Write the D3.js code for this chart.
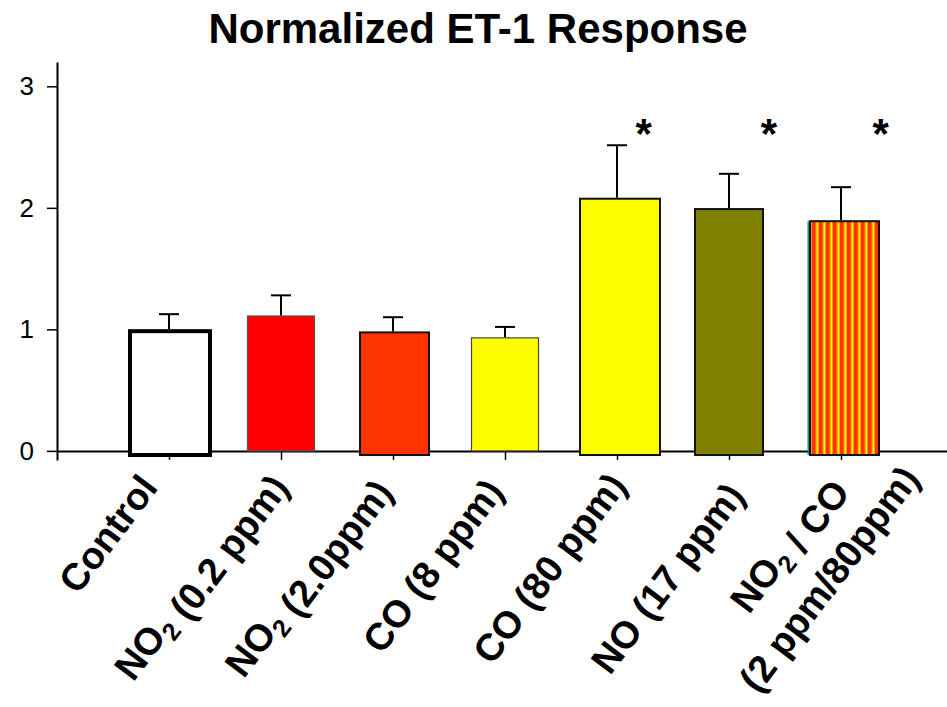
<!DOCTYPE html>
<html>
<head>
<meta charset="utf-8">
<script src="https://cdn.jsdelivr.net/npm/d3@7"></script>
<style>
  html, body { margin: 0; padding: 0; background: #fff; }
  svg { display: block; font-family: Arial, "Liberation Sans", Helvetica, sans-serif; }
</style>
</head>
<body>
<svg id="chart" width="947" height="707"></svg>
<script>
// ---- data ----
const chartTitle = "Normalized ET-1 Response";
const categories = [
  "Control",
  "NO2 (0.2 ppm)",
  "NO2 (2.0ppm)",
  "CO (8 ppm)",
  "CO (80 ppm)",
  "NO (17 ppm)",
  "NO2 / CO|(2 ppm/80ppm)"
];
const meanResponse = [0.985, 1.11, 0.975, 0.93, 2.075, 1.99, 1.89];
const errorUp      = [0.14, 0.17, 0.125, 0.09, 0.44, 0.29, 0.28];
const significant  = [false, false, false, false, true, true, true];
const yTickValues  = [0, 1, 2, 3];

// ---- styling ----
const barStyle = [
  { fill: "#ffffff",       stroke: "#000", sw: 4,   width: 80, dx: 1,   base: -0.034 },
  { fill: "#ff0000",       stroke: "#555", sw: 1.2, width: 67, dx: 0,   base: 0 },
  { fill: "#ff3300",       stroke: "#111", sw: 2,   width: 69, dx: 1.5, base: -0.034 },
  { fill: "#ffff00",       stroke: "#444", sw: 1.2, width: 67, dx: 0,   base: 0 },
  { fill: "#ffff00",       stroke: "#111", sw: 2,   width: 80, dx: 3,   base: -0.034 },
  { fill: "#808000",       stroke: "#111", sw: 2,   width: 68, dx: 0,   base: -0.034 },
  { fill: "url(#stripes)", stroke: "#111", sw: 2,   width: 69, dx: 3.5, base: -0.034, edge: "#008b8b" }
];
// label anchor (end of baseline) relative to tick and axis line
const labelPos = [
  [{ dx: -10, dy: 37 }],
  [{ dx: 3, dy: 32 }],
  [{ dx: -5, dy: 37 }],
  [{ dx: 0, dy: 41 }],
  [{ dx: 11, dy: 35 }],
  [{ dx: 17, dy: 45 }],
  [{ dx: 4, dy: 37 }, { dx: 80, dy: 28 }]
];
const labelAngle = -53;
const starDx = [0, 0, 0, 0, 26.7, 40, 39.7];

const svg = d3.select("#chart");

// stripe fill for the combined exposure bar
const defs = svg.append("defs");
const pat = defs.append("pattern")
  .attr("id", "stripes").attr("patternUnits", "userSpaceOnUse")
  .attr("width", 7).attr("height", 10);
pat.append("rect").attr("x", 0).attr("y", 0).attr("width", 7).attr("height", 10).attr("fill", "#ff3300");
pat.append("rect").attr("x", 3.5).attr("y", 0).attr("width", 1).attr("height", 10).attr("fill", "#ff9900");
pat.append("rect").attr("x", 4.5).attr("y", 0).attr("width", 1.5).attr("height", 10).attr("fill", "#ffff00");
pat.append("rect").attr("x", 6).attr("y", 0).attr("width", 1).attr("height", 10).attr("fill", "#ff9900");

// ---- scales ----
const x = d3.scalePoint().domain(categories).range([57, 953]).padding(1);
const y = d3.scaleLinear().domain([-0.075, 3.2]).range([460, 62]);

// ---- title ----
svg.append("text")
  .attr("x", 478).attr("y", 43)
  .attr("text-anchor", "middle")
  .attr("font-size", 42).attr("font-weight", "bold")
  .text(chartTitle);

// ---- axes ----
const xAxis = svg.append("g")
  .attr("transform", `translate(0,${y(0)})`)
  .call(d3.axisBottom(x).tickSize(9).tickSizeOuter(0).tickFormat(""));
xAxis.select(".domain").attr("stroke", "#000").attr("stroke-width", 2);
xAxis.selectAll(".tick line").attr("stroke", "#000").attr("stroke-width", 1.5);

const yAxis = svg.append("g")
  .attr("transform", "translate(57,0)")
  .call(d3.axisLeft(y).tickValues(yTickValues).tickSize(10).tickPadding(13).tickSizeOuter(0).tickFormat(d3.format("d")));
yAxis.attr("font-size", 26).attr("font-family", "Arial, 'Liberation Sans', sans-serif");
yAxis.select(".domain").attr("stroke", "#000").attr("stroke-width", 2);
yAxis.selectAll(".tick line").attr("stroke", "#000").attr("stroke-width", 1.5);
yAxis.selectAll(".tick text").attr("font-size", 26).attr("fill", "#000");

// ---- bars ----
const rows = categories.map((c, i) => ({
  cat: c, mean: meanResponse[i], err: errorUp[i], sig: significant[i], st: barStyle[i], i
}));

const bars = svg.append("g");
bars.selectAll("rect.bar").data(rows).join("rect")
  .attr("class", "bar")
  .attr("x", d => x(d.cat) + d.st.dx - d.st.width / 2)
  .attr("y", d => y(d.mean))
  .attr("width", d => d.st.width)
  .attr("height", d => y(d.st.base) - y(d.mean))
  .attr("fill", d => d.st.fill)
  .attr("stroke", d => d.st.stroke)
  .attr("stroke-width", d => d.st.sw);

bars.selectAll("line.edge").data(rows.filter(d => d.st.edge)).join("line")
  .attr("class", "edge")
  .attr("x1", d => x(d.cat) + d.st.dx - d.st.width / 2 - 1.8)
  .attr("x2", d => x(d.cat) + d.st.dx - d.st.width / 2 - 1.8)
  .attr("y1", d => y(d.mean))
  .attr("y2", d => y(d.st.base))
  .attr("stroke", d => d.st.edge).attr("stroke-width", 1.4);

// ---- error bars (upper only) ----
const err = svg.append("g").attr("stroke", "#000").attr("stroke-width", 2);
err.selectAll("line.stem").data(rows).join("line")
  .attr("class", "stem")
  .attr("x1", d => x(d.cat)).attr("x2", d => x(d.cat))
  .attr("y1", d => y(d.mean) - d.st.sw / 2).attr("y2", d => y(d.mean + d.err));
err.selectAll("line.cap").data(rows).join("line")
  .attr("class", "cap")
  .attr("x1", d => x(d.cat) - 10).attr("x2", d => x(d.cat) + 10)
  .attr("y1", d => y(d.mean + d.err)).attr("y2", d => y(d.mean + d.err));

// ---- significance markers ----
svg.append("g").selectAll("text").data(rows.filter(d => d.sig)).join("text")
  .attr("x", d => x(d.cat) + starDx[d.i])
  .attr("y", y(2.65) + 19)
  .attr("text-anchor", "middle")
  .attr("font-size", 42).attr("font-weight", "bold")
  .text("*");

// ---- category labels ----
function writeLine(sel, str) {
  // render "NO2" with a subscript 2
  const parts = str.split("NO2");
  parts.forEach((p, k) => {
    if (k > 0) {
      sel.append("tspan").text("NO");
      sel.append("tspan").attr("font-size", 25).attr("dy", 8).text("2");
      sel.append("tspan").attr("dy", -8).text("");
    }
    if (p) sel.append("tspan").text(p);
  });
}

const labels = svg.append("g")
  .attr("font-size", 38).attr("font-weight", "bold").attr("fill", "#000");
rows.forEach(d => {
  d.cat.split("|").forEach((line, j) => {
    const p = labelPos[d.i][j];
    const ax = x(d.cat) + p.dx, ay = y(0) + p.dy;
    const t = labels.append("text")
      .attr("text-anchor", "end")
      .attr("transform", `translate(${ax},${ay}) rotate(${labelAngle})`);
    writeLine(t, line);
  });
});
</script>
</body>
</html>
